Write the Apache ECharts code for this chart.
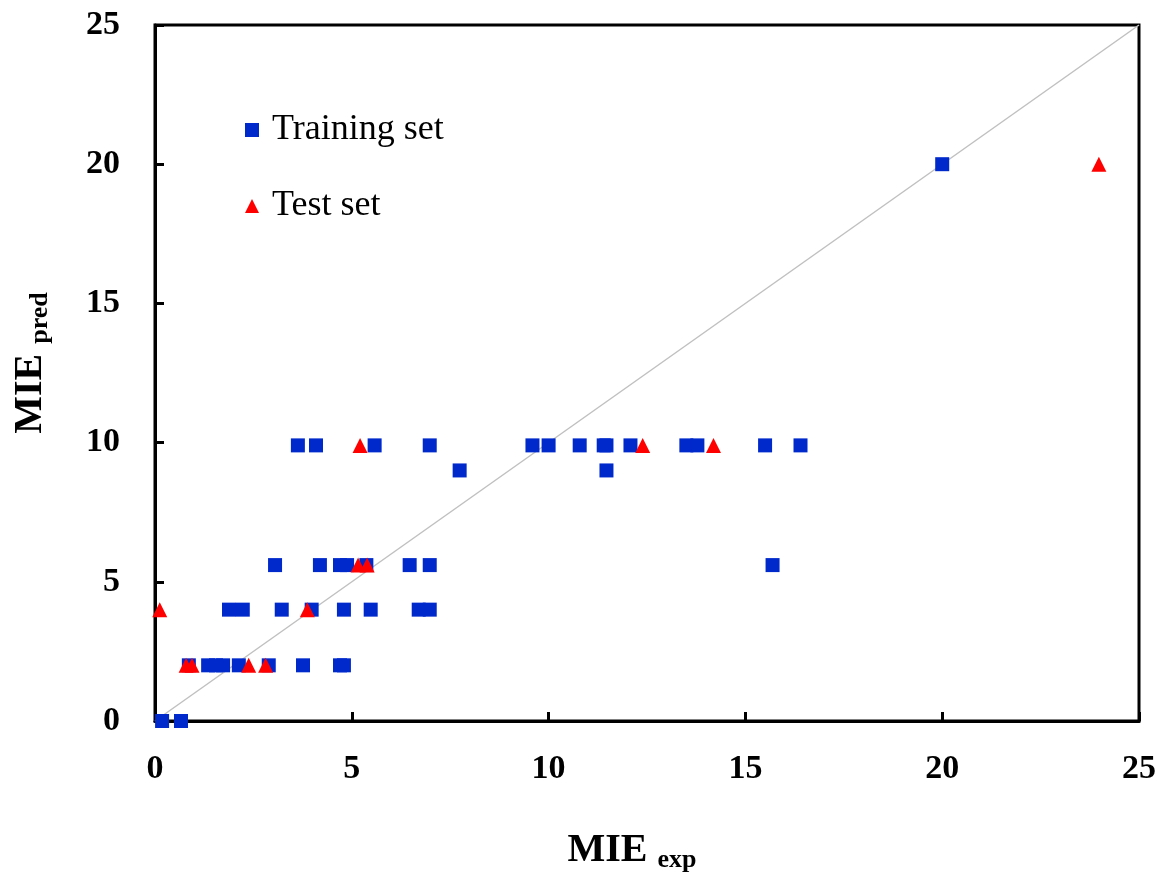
<!DOCTYPE html>
<html>
<head>
<meta charset="utf-8">
<script src="https://cdn.jsdelivr.net/npm/echarts@6/dist/echarts.min.js"></script>
<style>
  html, body { margin: 0; padding: 0; background: #fff; }
  #main { width: 1161px; height: 878px; }
</style>
</head>
<body>
<div id="main"></div>
<script>
// values
var trainX = [0.18, 0.66,
    0.86, 1.35, 1.55, 1.73, 2.13, 2.89, 3.76, 4.7, 4.8,
    1.88, 2.23, 3.22, 3.98, 4.8, 5.48, 6.7, 6.98,
    3.05, 4.19, 4.7, 4.88, 5.37, 6.47, 6.98, 15.69,
    7.74, 11.47,
    3.63, 4.09, 5.58, 6.98, 9.59, 10.0, 10.79, 11.4, 11.47, 12.08, 13.5, 13.78, 15.5, 16.4,
    20.0];
var trainY = [0, 0,
    2, 2, 2, 2, 2, 2, 2, 2, 2,
    4, 4, 4, 4, 4, 4, 4, 4,
    5.6, 5.6, 5.6, 5.6, 5.6, 5.6, 5.6, 5.6,
    9, 9,
    9.9, 9.9, 9.9, 9.9, 9.9, 9.9, 9.9, 9.9, 9.9, 9.9, 9.9, 9.9, 9.9, 9.9,
    20];
var testX = [0.12, 0.79, 0.94, 2.38, 2.81, 3.87, 5.16, 5.39, 5.21, 12.39, 14.19, 23.98];
var testY = [4, 2, 2, 2, 2, 4, 5.6, 5.6, 9.9, 9.9, 9.9, 20];
var diagLine = [[0, 0], [25, 25]];
var axisTicks = [0, 5, 10, 15, 20, 25];

function pairs(xs, ys) {
    var out = [];
    for (var i = 0; i < xs.length; i++) out.push([xs[i], ys[i]]);
    return out;
}

var serif = '"Times New Roman", "Liberation Serif", serif';

var myChart = echarts.init(document.getElementById('main'));
var option = {
    backgroundColor: '#fff',
    animation: false,
    grid: {
        left: 155, top: 25, right: 22, bottom: 157,
        outerBoundsMode: 'none',
        containLabel: false,
        show: true, borderColor: '#000', borderWidth: 3
    },
    legend: {
        orient: 'vertical',
        left: 240, top: 107,
        itemWidth: 14, itemHeight: 14,
        itemGap: 40,
        textStyle: { fontFamily: serif, fontSize: 36, color: '#000', padding: [0, 0, 0, 8] },
        data: [
            { name: 'Training set', icon: 'rect' },
            { name: 'Test set', icon: 'triangle' }
        ]
    },
    xAxis: {
        type: 'value',
        min: axisTicks[0], max: axisTicks[axisTicks.length - 1], interval: 5,
        axisLine: { lineStyle: { color: '#000', width: 3 } },
        axisTick: { inside: true, length: 9, lineStyle: { color: '#000', width: 3 } },
        axisLabel: { margin: 31, fontFamily: serif, fontWeight: 'bold', fontSize: 34, color: '#000' },
        splitLine: { show: false },
        name: '{a|MIE }{b|exp}',
        nameLocation: 'middle',
        nameGap: 108,
        nameTextStyle: {
            padding: [0, 30, 0, 0],
            rich: {
                a: { fontFamily: serif, fontWeight: 'bold', fontSize: 40, color: '#000' },
                b: { fontFamily: serif, fontWeight: 'bold', fontSize: 26, color: '#000', padding: [18, 0, 0, 0] }
            }
        }
    },
    yAxis: {
        type: 'value',
        min: axisTicks[0], max: axisTicks[axisTicks.length - 1], interval: 5,
        axisLine: { lineStyle: { color: '#000', width: 3 } },
        axisTick: { inside: true, length: 9, lineStyle: { color: '#000', width: 3 } },
        axisLabel: { margin: 35, fontFamily: serif, fontWeight: 'bold', fontSize: 34, color: '#000' },
        splitLine: { show: false },
        name: '{a|MIE }{b|pred}',
        nameLocation: 'middle',
        nameRotate: 90,
        nameGap: 102,
        nameTextStyle: {
            padding: [0, 0, 0, 20],
            rich: {
                a: { fontFamily: serif, fontWeight: 'bold', fontSize: 40, color: '#000' },
                b: { fontFamily: serif, fontWeight: 'bold', fontSize: 26, color: '#000', padding: [18, 0, 0, 0] }
            }
        }
    },
    series: [{
        type: 'line',
        data: diagLine,
        symbol: 'none',
        silent: true,
        lineStyle: { color: '#c0c0c0', width: 1.5 },
        z: 1
    }, {
        name: 'Training set',
        type: 'scatter',
        symbol: 'rect',
        symbolSize: 14,
        itemStyle: { color: '#0029cc', opacity: 1 },
        data: pairs(trainX, trainY),
        z: 2
    }, {
        name: 'Test set',
        type: 'scatter',
        symbol: 'triangle',
        symbolSize: 15,
        itemStyle: { color: '#ff0000', opacity: 1 },
        data: pairs(testX, testY),
        z: 3
    }]
};
myChart.setOption(option);
</script>
</body>
</html>
